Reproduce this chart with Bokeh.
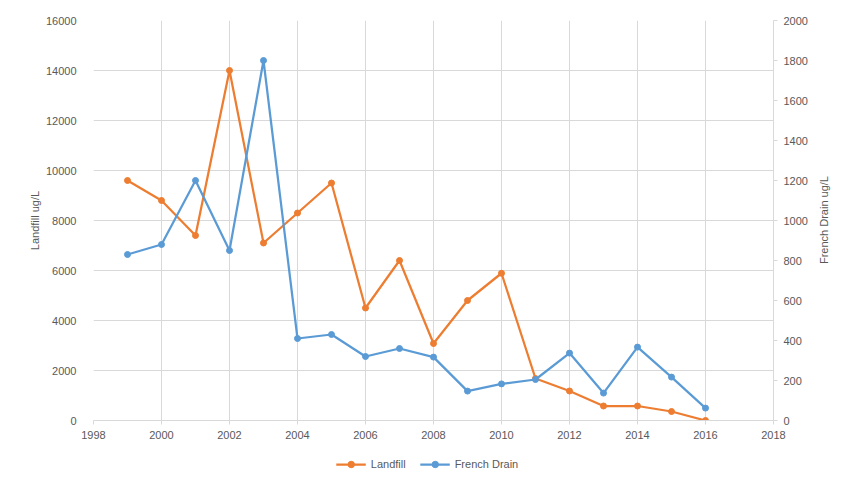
import math
from bokeh.plotting import figure
from bokeh.models import Range1d, LinearAxis, FixedTicker, Legend, Label
from bokeh.layouts import column, row
from bokeh.embed import file_html
from bokeh.resources import INLINE

years = list(range(1999, 2017))
landfill = [9600, 8800, 7400, 14000, 7100, 8300, 9500, 4500, 6400, 3080,
            4800, 5890, 1680, 1180, 580, 580, 360, 0]
french_drain = [830, 880, 1200, 850, 1800, 410, 430, 320, 360, 317,
                147, 183, 205, 337, 137, 367, 217, 62]
series_names = ["Landfill", "French Drain"]

x_ticks = list(range(1998, 2019, 2))
left_ticks = list(range(0, 16001, 2000))
right_ticks = list(range(0, 2001, 200))

ORANGE = "#ED7D31"
BLUE = "#5B9BD5"
GRID = "#D9D9D9"
TXT = "#595959"
FONT = "Liberation Sans"

# ---- main chart ----
p = figure(width=815, height=445, output_backend="svg", toolbar_location=None,
           x_range=Range1d(1998, 2018), y_range=Range1d(0, 16000),
           frame_width=680, frame_height=400,
           min_border_left=93, min_border_right=42, min_border_top=20, min_border_bottom=25)
p.extra_y_ranges = {"fd": Range1d(0, 2000)}
p.outline_line_color = None
p.background_fill_color = "white"
p.border_fill_color = "white"

p.xaxis.ticker = FixedTicker(ticks=x_ticks)
p.yaxis.ticker = FixedTicker(ticks=left_ticks)
p.xgrid.ticker = FixedTicker(ticks=x_ticks)
for g in (p.xgrid, p.ygrid):
    g.grid_line_color = GRID
    g.grid_line_width = 1

ax = p.xaxis[0]
ax.axis_line_color = GRID
ax.major_tick_line_color = GRID
ax.major_tick_in = 0
ax.major_tick_out = 4
ax.minor_tick_line_color = None
ax.major_label_standoff = 6

ay = p.yaxis[0]
ay.axis_line_color = None
ay.major_tick_line_color = None
ay.minor_tick_line_color = None
ay.major_label_standoff = 11
ay.axis_label = "Landfill ug/L"
ay.axis_label_standoff = 2

ry = LinearAxis(y_range_name="fd", ticker=FixedTicker(ticks=right_ticks))
ry.axis_line_color = GRID
ry.major_tick_line_color = GRID
ry.major_tick_in = 0
ry.major_tick_out = 4
ry.minor_tick_line_color = None
ry.major_label_standoff = 6
p.add_layout(ry, "right")

for a in (ax, ay, ry):
    a.major_label_text_font = FONT
    a.major_label_text_font_size = "11px"
    a.major_label_text_color = TXT
    a.axis_label_text_font = FONT
    a.axis_label_text_font_size = "11px"
    a.axis_label_text_color = TXT
    a.axis_label_text_font_style = "normal"

p.line(years, landfill, line_color=ORANGE, line_width=2.25)
p.scatter(years, landfill, marker="circle", size=6, fill_color=ORANGE, line_color=ORANGE)
p.line(years, french_drain, line_color=BLUE, line_width=2.25, y_range_name="fd")
p.scatter(years, french_drain, marker="circle", size=6, fill_color=BLUE, line_color=BLUE,
          y_range_name="fd")

# ---- right-hand axis title strip ----
strip = figure(width=39, height=445, output_backend="svg", toolbar_location=None,
               x_range=Range1d(0, 39), y_range=Range1d(0, 445),
               x_axis_type=None, y_axis_type=None, min_border=0)
strip.outline_line_color = None
strip.background_fill_color = "white"
strip.border_fill_color = "white"
strip.add_layout(Label(x=8, y=223, text="French Drain ug/L", angle=math.pi / 2,
                       text_align="center", text_baseline="middle", text_font=FONT,
                       text_font_size="11px", text_color=TXT))

# ---- legend strip (series drawn off-range; only the legend keys show) ----
leg = figure(width=854, height=38, output_backend="svg", toolbar_location=None,
             x_range=Range1d(0, 1), y_range=Range1d(0, 1),
             x_axis_type=None, y_axis_type=None, min_border=0)
leg.outline_line_color = None
leg.background_fill_color = "white"
leg.border_fill_color = "white"
k1 = leg.line(years, landfill, line_color=ORANGE, line_width=2.25)
m1 = leg.scatter(years, landfill, marker="circle", size=6, fill_color=ORANGE, line_color=ORANGE)
k2 = leg.line(years, french_drain, line_color=BLUE, line_width=2.25)
m2 = leg.scatter(years, french_drain, marker="circle", size=6, fill_color=BLUE, line_color=BLUE)

legend = Legend(items=[(series_names[0], [k1, m1]), (series_names[1], [k2, m2])],
                orientation="horizontal", location="center")
legend.border_line_color = None
legend.background_fill_alpha = 0
legend.label_text_font = FONT
legend.label_text_font_size = "11px"
legend.label_text_color = TXT
legend.glyph_width = 30
legend.glyph_height = 16
legend.label_height = 16
legend.spacing = 14
legend.margin = 0
legend.padding = 3
leg.add_layout(legend, "center")

layout = column(row(p, strip), leg)
open("out.html", "w").write(file_html(layout, INLINE))
